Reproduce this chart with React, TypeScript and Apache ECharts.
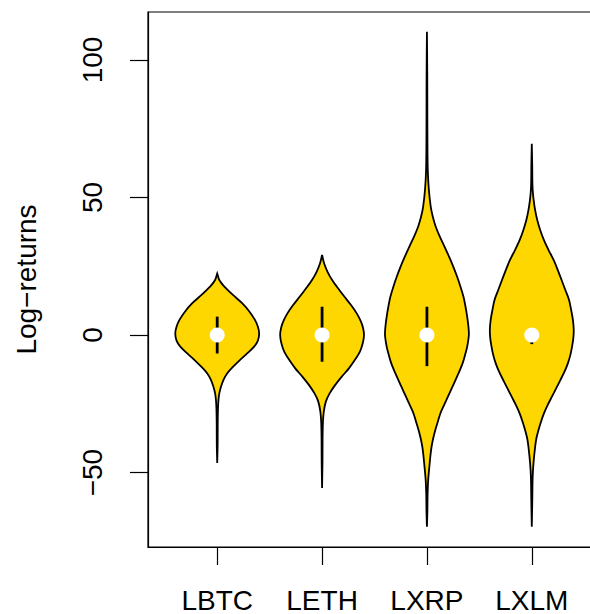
import React, { useEffect, useRef } from "react";
import * as echarts from "echarts";

const categories = ["LBTC", "LETH", "LXRP", "LXLM"];
const yTicks = [-50, 0, 50, 100];
const xTicks = [1, 2, 3, 4];

// [value, relative half-width (1 = widest)]
const lbtcProfile = [
  [22.4, 0], [20, 0.05], [17.6, 0.17], [14.5, 0.38], [11.5, 0.6], [8.5, 0.77], [5.5, 0.9], [3, 0.97], [0.6, 1.0],
  [-2, 0.97], [-4.2, 0.88], [-6.6, 0.72], [-9.1, 0.54], [-11.5, 0.38], [-13.9, 0.24], [-16.3, 0.15], [-18.8, 0.09],
  [-21.2, 0.05], [-23.6, 0.03], [-27, 0.018], [-32, 0.012], [-40, 0.01], [-46.5, 0],
];
const lethProfile = [
  [29.1, 0], [26, 0.05], [23, 0.13], [20, 0.24], [17, 0.38], [14, 0.53], [10.9, 0.69], [7.8, 0.83], [4.8, 0.93], [2.4, 0.98], [0, 1.0],
  [-3, 0.97], [-6.1, 0.9], [-9.1, 0.78], [-12.1, 0.64], [-15.1, 0.47], [-18.2, 0.31], [-21.2, 0.18], [-24.2, 0.09],
  [-27.9, 0.04], [-32, 0.02], [-38, 0.012], [-46, 0.01], [-55.6, 0],
];
const lxrpProfile = [
  [110.3, 0], [95, 0.008], [80, 0.01], [68, 0.013], [60, 0.02], [53, 0.045], [46.7, 0.09], [43, 0.14], [39.4, 0.21], [35.7, 0.31], [32.1, 0.42],
  [28.4, 0.53], [24.8, 0.63], [21.2, 0.72], [17.6, 0.8], [14, 0.87], [10.3, 0.92], [6.6, 0.96], [3, 0.99], [0, 1.0],
  [-4.2, 0.96], [-7.2, 0.91], [-10.3, 0.85], [-13.3, 0.77], [-16.4, 0.68], [-19.4, 0.59], [-22.4, 0.5], [-25.4, 0.41], [-28.5, 0.32],
  [-31.5, 0.26], [-34.5, 0.2], [-37.5, 0.15], [-40.6, 0.11], [-43.6, 0.085], [-46.7, 0.065], [-52.7, 0.03], [-58, 0.016], [-64, 0.011], [-69.7, 0],
];
const lxlmProfile = [
  [69.5, 0], [62, 0.01], [55, 0.015], [52, 0.025], [49, 0.045], [45.4, 0.08], [41.8, 0.13], [38.2, 0.2], [34.5, 0.29], [30.9, 0.4], [27.3, 0.52],
  [23.6, 0.62], [20, 0.71], [16.4, 0.8], [12.7, 0.89], [9, 0.94], [5.5, 0.98], [2, 1.0],
  [-1.2, 0.99], [-4.2, 0.96], [-7.2, 0.92], [-10.3, 0.86], [-13.3, 0.78], [-16.4, 0.68], [-19.4, 0.58], [-22.4, 0.48], [-25.4, 0.38], [-28.5, 0.29],
  [-31.5, 0.22], [-34.5, 0.16], [-37.5, 0.11], [-40.6, 0.08], [-46.7, 0.04], [-52, 0.02], [-60, 0.012], [-69.7, 0],
];
const profiles = [lbtcProfile, lethProfile, lxrpProfile, lxlmProfile];
const medians = [0, 0, 0, 0];
const q1 = [-6.7, -9.7, -11.3, -3.3];
const q3 = [6.7, 10.3, 10.3, 2];

const HALF_MAX = 0.4;
const FONT = "'Liberation Sans', Arial, Helvetica, sans-serif";

export default function App() {
  const ref = useRef<HTMLDivElement>(null);
  useEffect(() => {
    if (!ref.current) return;
    const chart = echarts.init(ref.current, null, { renderer: "svg" });
    const option: any = {
      animation: false,
      backgroundColor: "#fff",
      grid: {
        left: 148,
        top: 12,
        right: 19,
        bottom: 67,
        show: true,
        borderColor: "#000",
        borderWidth: 1.2,
        backgroundColor: "transparent",
      },
      xAxis: {
        type: "value",
        min: 0.34,
        max: 4.66,
        axisLine: { show: true, onZero: false, lineStyle: { color: "#000", width: 1.2 } },
        axisTick: { show: true, customValues: xTicks, length: 18, lineStyle: { color: "#000", width: 1.2 } },
        axisLabel: {
          customValues: xTicks,
          formatter: (v: number) => categories[Math.round(v) - 1] ?? "",
          fontSize: 28,
          color: "#000",
          fontFamily: FONT,
          margin: 39,
        },
        splitLine: { show: false },
      },
      yAxis: {
        type: "value",
        min: -77.05,
        max: 117.45,
        name: "Log\u2212returns",
        nameLocation: "middle",
        nameGap: 108,
        nameTextStyle: { fontSize: 28, color: "#000", fontFamily: FONT },
        axisLine: { show: true, onZero: false, lineStyle: { color: "#000", width: 1.2 } },
        axisTick: { show: true, customValues: yTicks, length: 18, lineStyle: { color: "#000", width: 1.2 } },
        axisLabel: {
          customValues: yTicks,
          rotate: 90,
          fontSize: 28,
          color: "#000",
          fontFamily: FONT,
          margin: 42,
          formatter: (v: number) => (v < 0 ? "\u2212" + Math.abs(v) : String(v)),
        },
        splitLine: { show: false },
      },
      series: [
        {
          type: "custom",
          clip: false,
          data: categories.map((_, i) => [i + 1, medians[i]]),
          encode: { x: 0, y: 1 },
          renderItem: (params: any, api: any) => {
            const i = params.dataIndex;
            const x = i + 1;
            const prof = profiles[i];
            const right = prof.map(([v, w]) => api.coord([x + w * HALF_MAX, v]));
            const left = prof
              .slice()
              .reverse()
              .map(([v, w]) => api.coord([x - w * HALF_MAX, v]));
            const pts = right.concat(left);
            const top = api.coord([x, q3[i]]);
            const bot = api.coord([x, q1[i]]);
            const med = api.coord([x, medians[i]]);
            return {
              type: "group",
              children: [
                {
                  type: "polygon",
                  shape: { points: pts, smooth: 0.3 },
                  style: { fill: "#FFD700", stroke: "#000", lineWidth: 1.8 },
                },
                {
                  type: "rect",
                  shape: { x: top[0] - 1.4, y: top[1], width: 2.8, height: bot[1] - top[1] },
                  style: { fill: "#000" },
                },
                {
                  type: "circle",
                  shape: { cx: med[0], cy: med[1], r: 7.5 },
                  style: { fill: "#fff" },
                },
              ],
            };
          },
        },
      ],
    };
    chart.setOption(option);
    return () => chart.dispose();
  }, []);
  return (
    <div
      ref={ref}
      style={{ position: "fixed", left: 0, top: 0, width: 620, height: 614, background: "#fff" }}
    />
  );
}
